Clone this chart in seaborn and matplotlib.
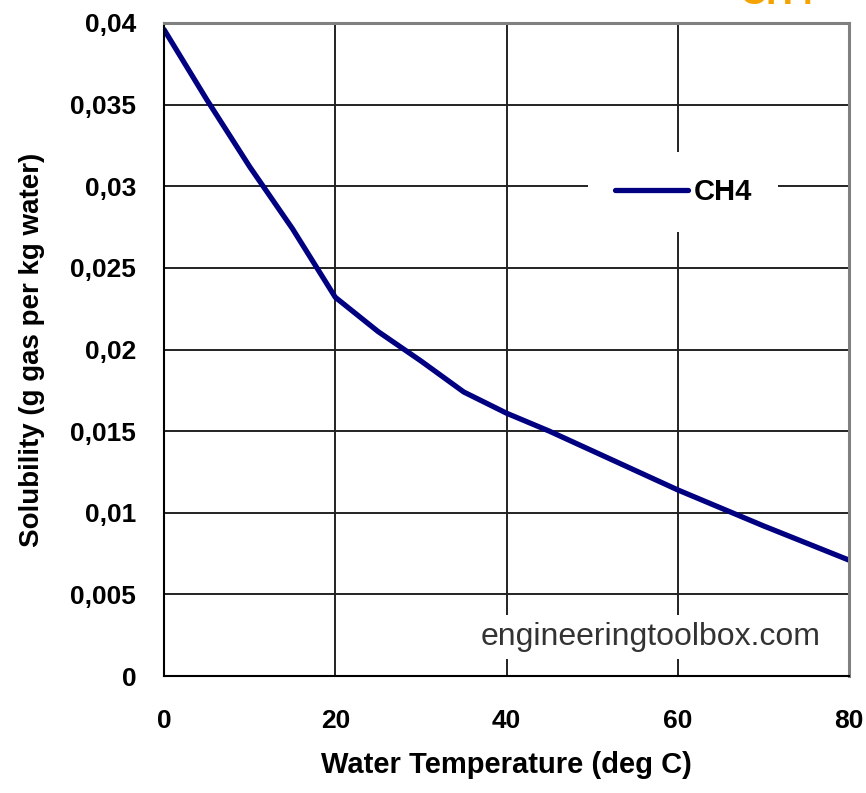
import numpy as np
import pandas as pd
import matplotlib
matplotlib.use("Agg")
import matplotlib.pyplot as plt
import seaborn as sns

# Solubility of methane in water
temperature = [0, 5, 10, 15, 20, 25, 30, 35, 40, 45, 50, 55, 60, 70, 80]
solubility = [0.0396, 0.0353, 0.0312, 0.0274, 0.0232, 0.0211, 0.0193, 0.0174, 0.0161, 0.0150, 0.0138, 0.0126, 0.0114, 0.0092, 0.0071]
x_ticks = [0, 20, 40, 60, 80]
y_ticks = [0, 0.005, 0.01, 0.015, 0.02, 0.025, 0.03, 0.035, 0.04]
y_tick_labels = ["0", "0,005", "0,01", "0,015", "0,02", "0,025", "0,03", "0,035", "0,04"]

df = pd.DataFrame({"temp": temperature, "sol": solubility, "gas": "CH4"})

sns.set_theme(style="white")
plt.rcParams["font.family"] = ["Liberation Sans", "DejaVu Sans"]
plt.rcParams["text.color"] = "black"
plt.rcParams["axes.labelcolor"] = "black"
plt.rcParams["xtick.color"] = "black"
plt.rcParams["ytick.color"] = "black"

fig = plt.figure(figsize=(8.66, 7.93), dpi=100)
ax = fig.add_axes([0.1894, 0.1475, 0.791, 0.8235])

ax.grid(True, color="#222222", linewidth=1.4)
ax.set_axisbelow(True)

sns.lineplot(data=df, x="temp", y="sol", hue="gas", palette=["#000080"],
             linewidth=3.8, ax=ax)

ax.set_xlim(0, 80)
ax.set_ylim(0, 0.04)
ax.set_xticks(x_ticks)
ax.set_xticklabels([str(t) for t in x_ticks])
ax.set_yticks(y_ticks)
ax.set_yticklabels(y_tick_labels)
ax.tick_params(axis="y", labelsize=19, length=9, width=1.3, direction="out", pad=11)
ax.tick_params(axis="x", labelsize=19, length=10, width=1.3, direction="out", pad=14)
for lab in ax.get_xticklabels() + ax.get_yticklabels():
    lab.set_fontweight("bold")

for side in ["left", "bottom"]:
    ax.spines[side].set_color("black")
    ax.spines[side].set_linewidth(1.5)
for side in ["top", "right"]:
    ax.spines[side].set_color("#808080")
    ax.spines[side].set_linewidth(2.2)

ax.set_xlabel("Water Temperature (deg C)", fontsize=21, fontweight="bold", labelpad=13)
ax.set_ylabel("Solubility (g gas per kg water)", fontsize=20, fontweight="bold", labelpad=18)

leg = ax.legend(loc="center", bbox_to_anchor=(0.758, 0.741), frameon=True,
                framealpha=1, edgecolor="white", facecolor="white",
                handlelength=2.5, handletextpad=0.2, borderpad=0.9,
                prop={"size": 21, "weight": "bold"})
leg.get_frame().set_linewidth(0)

ax.text(0.958, 0.047, "engineeringtoolbox.com", transform=ax.transAxes,
        ha="right", va="baseline", fontsize=23, color="#333333",
        bbox=dict(facecolor="white", edgecolor="none", pad=5))

# title cut off at the top edge
fig.text(0.854, 1 - 4 / 793, "CH4", ha="left", va="baseline", fontsize=27,
         fontweight="bold", color="#F5A300")

fig.savefig("out.png", dpi=100)
